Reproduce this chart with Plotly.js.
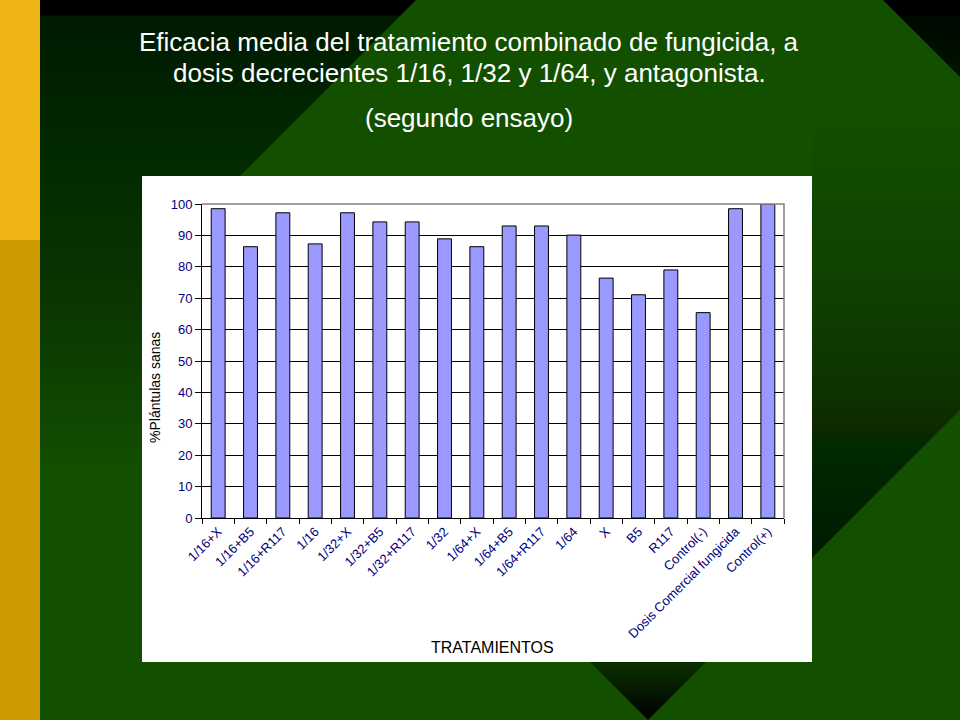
<!DOCTYPE html>
<html>
<head>
<meta charset="utf-8">
<script src="https://cdn.plot.ly/plotly-3.0.1.min.js"></script>
<style>
    html, body { margin: 0; padding: 0; }
    body { width: 960px; height: 720px; position: relative; overflow: hidden; background: #125000; }
    .bg { position: absolute; }
    #chart { position: absolute; left: 0; top: 0; width: 960px; height: 720px; }
</style>
</head>
<body>
<!-- slide background -->
<div class="bg" style="left:0;top:0;width:40px;height:240px;background:#efb514;"></div>
<div class="bg" style="left:0;top:240px;width:40px;height:480px;background:#cc9a00;"></div>
<div class="bg" style="left:40px;top:0;width:376px;height:720px;
    clip-path:polygon(0 0, 376px 0, 200px 176px, 102px 274px, 102px 720px, 0 720px);
    background:linear-gradient(to bottom, #000 0, #000 15px, #001a00 16px, #022a00 160px, #0a3600 300px, #125000 480px);"></div>
<div class="bg" style="left:883px;top:0;width:77px;height:77px;
    clip-path:polygon(0 0, 77px 0, 77px 77px);
    background:linear-gradient(to bottom, #000 0, #000 15px, #000800 16px, #001400 77px);"></div>
<div class="bg" style="left:812px;top:100px;width:148px;height:458px;
    clip-path:polygon(0 0, 148px 0, 148px 310px, 0 458px);
    background:linear-gradient(to bottom, #125000 0, #0f4200 180px, #0d3300 290px, #102800 330px, #002a00 345px, #001a00 458px);"></div>
<div class="bg" style="left:590px;top:662px;width:116px;height:58px;
    clip-path:polygon(0 0, 116px 0, 58px 58px);
    background:linear-gradient(to bottom, #0a3000 0, #000 58px);"></div>

<div id="chart"></div>

<script>
(function() {
    'use strict';

    var categories = [
        '1/16+X', '1/16+B5', '1/16+R117', '1/16',
        '1/32+X', '1/32+B5', '1/32+R117', '1/32',
        '1/64+X', '1/64+B5', '1/64+R117', '1/64',
        'X', 'B5', 'R117', 'Control(-)',
        'Dosis Comercial fungicida', 'Control(+)'
    ];
    var sanas = [
        98.5, 86.4, 97.2, 87.3,
        97.2, 94.3, 94.3, 88.9,
        86.4, 93.0, 93.0, 90.1,
        76.4, 71.1, 79.0, 65.4,
        98.5, 100
    ];
    var yTicks = [0, 10, 20, 30, 40, 50, 60, 70, 80, 90, 100];

    var titleLines = [
        'Eficacia media del tratamiento combinado de fungicida, a',
        'dosis decrecientes 1/16, 1/32 y 1/64, y antagonista.',
        '(segundo ensayo)'
    ];

    var fontFamily = 'Arial, "Liberation Sans", sans-serif';
    var navy = '#000080';

    // plot area in page pixels
    var plotL = 202, plotR = 784, plotT = 204, plotB = 518;
    var plotW = plotR - plotL, plotH = plotB - plotT;

    function px(x) { return (x - plotL) / plotW; }
    function py(y) { return (plotB - y) / plotH; }

    var trace = {
        type: 'bar',
        x: categories,
        y: sanas,
        marker: { color: '#9999ff', line: { color: '#000000', width: 1 } },
        hoverinfo: 'x+y'
    };

    var titleY = [42, 73, 118];
    var annotations = titleLines.map(function(t, i) {
        return {
            text: t, xref: 'paper', yref: 'paper',
            x: px(469), y: py(titleY[i]), xanchor: 'center', yanchor: 'middle',
            showarrow: false,
            font: { family: fontFamily, size: 26, color: '#ffffff' }
        };
    });
    annotations.push({
        text: '%Plántulas sanas', xref: 'paper', yref: 'paper',
        x: px(155), y: py(388), xanchor: 'center', yanchor: 'middle',
        textangle: -90, showarrow: false,
        font: { family: fontFamily, size: 14, color: '#000000' }
    });
    annotations.push({
        text: 'TRATAMIENTOS', xref: 'paper', yref: 'paper',
        x: px(492), y: py(647), xanchor: 'center', yanchor: 'middle',
        showarrow: false,
        font: { family: fontFamily, size: 16, color: '#000000' }
    });

    var layout = {
        width: 960,
        height: 720,
        margin: { l: plotL, r: 960 - plotR, t: plotT, b: 720 - plotB, pad: 0 },
        paper_bgcolor: 'rgba(0,0,0,0)',
        plot_bgcolor: '#c0c0c0',
        showlegend: false,
        bargap: 0.57,
        font: { family: fontFamily, color: navy },
        xaxis: {
            type: 'category',
            tickangle: -45,
            tickson: 'boundaries',
            ticks: 'outside',
            ticklen: 5,
            tickcolor: '#000000',
            showgrid: false,
            showline: true,
            linecolor: '#000000',
            linewidth: 1,
            tickfont: { family: fontFamily, size: 13, color: navy },
            automargin: false
        },
        yaxis: {
            range: [0, 100],
            tickvals: yTicks,
            ticks: 'outside',
            ticklen: 6,
            tickcolor: '#000000',
            showgrid: true,
            gridcolor: '#000000',
            gridwidth: 1,
            zeroline: false,
            showline: true,
            linecolor: '#000000',
            linewidth: 1,
            tickfont: { family: fontFamily, size: 13, color: navy },
            automargin: false
        },
        shapes: [
            {
                // white chart area
                type: 'rect', xref: 'paper', yref: 'paper', layer: 'below',
                x0: px(142), x1: px(812), y0: py(662), y1: py(176),
                fillcolor: '#ffffff', line: { width: 0 }
            },
            {
                // grey plot border top and right
                type: 'path', xref: 'paper', yref: 'paper', layer: 'above',
                path: 'M 0,1 L 1,1 L 1,0',
                line: { color: '#808080', width: 1.5 }
            }
        ],
        annotations: annotations
    };

    Plotly.newPlot('chart', [trace], layout, { displayModeBar: false, staticPlot: true });
})();
</script>
</body>
</html>
